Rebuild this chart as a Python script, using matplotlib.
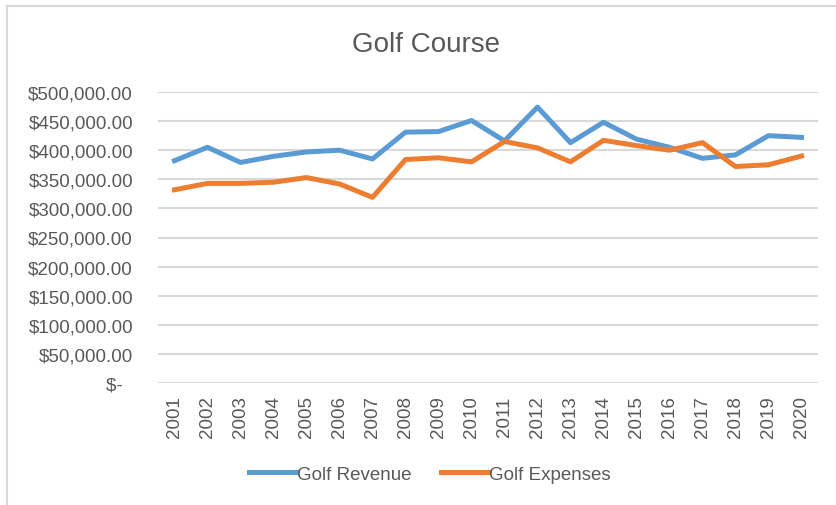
import numpy as np
import matplotlib.pyplot as plt
from matplotlib.lines import Line2D

plt.rcParams['font.family'] = ['Liberation Sans', 'DejaVu Sans']

# data
years = [str(y) for y in range(2001, 2021)]
golf_revenue = [382000, 405000, 379000, 389500, 397000, 400000, 385000, 431000, 432000, 451000,
                416000, 474000, 413000, 448000, 419000, 405000, 386000, 392000, 425000, 422000]
golf_expenses = [332000, 343000, 343000, 345000, 353000, 342000, 319000, 384000, 387000, 380000,
                 415000, 404000, 380000, 417000, 408000, 400000, 413000, 372000, 375000, 390000]
y_ticks = [0, 50000, 100000, 150000, 200000, 250000, 300000, 350000, 400000, 450000, 500000]

grey = '#595959'
blue = '#5B9BD5'
orange = '#ED7D31'

fig = plt.figure(figsize=(8.36, 5.06), dpi=100)
ax = fig.add_axes([158 / 836, 1 - 384 / 506, 660 / 836, 291 / 506])

x = np.arange(len(years))
ax.plot(x, golf_revenue, color=blue, lw=3.6, solid_joinstyle='round', label='Golf Revenue')
ax.plot(x, golf_expenses, color=orange, lw=3.6, solid_joinstyle='round', label='Golf Expenses')

ax.set_xlim(-0.5, len(years) - 0.5)
ax.set_ylim(0, 500000)
ax.set_yticks(y_ticks)


def money(v):
    if v == 0:
        return '$-  '
    return '${:,.2f}'.format(v)


ax.set_yticklabels([money(v) for v in y_ticks])
ax.set_xticks(x)
ax.set_xticklabels(years, rotation=90)
ax.tick_params(axis='y', length=0, pad=18, labelsize=13.5, labelcolor=grey)
ax.tick_params(axis='x', length=0, pad=9, labelsize=13.5, labelcolor=grey)
ax.grid(axis='y', color='#D9D9D9', lw=1.5)
ax.set_axisbelow(True)
for s in ax.spines.values():
    s.set_visible(False)

fig.text(426 / 836, 1 - 45 / 506, 'Golf Course', ha='center', va='center', fontsize=20, color=grey)

fig.legend(loc='center', bbox_to_anchor=(430 / 836, 1 - 475 / 506), ncol=2, frameon=False,
           fontsize=13.5, labelcolor=grey, handlelength=2.5, handletextpad=0.05,
           columnspacing=1.6)

# chart border (only top and left visible in the screenshot)
fig.add_artist(Line2D([6.5 / 836, 6.5 / 836], [0, 1 - 6.5 / 506], color='#D9D9D9', lw=1.5,
                      transform=fig.transFigure))
fig.add_artist(Line2D([6.5 / 836, 1], [1 - 6.5 / 506, 1 - 6.5 / 506], color='#D9D9D9', lw=1.5,
                      transform=fig.transFigure))

fig.savefig('out.png', dpi=100)
